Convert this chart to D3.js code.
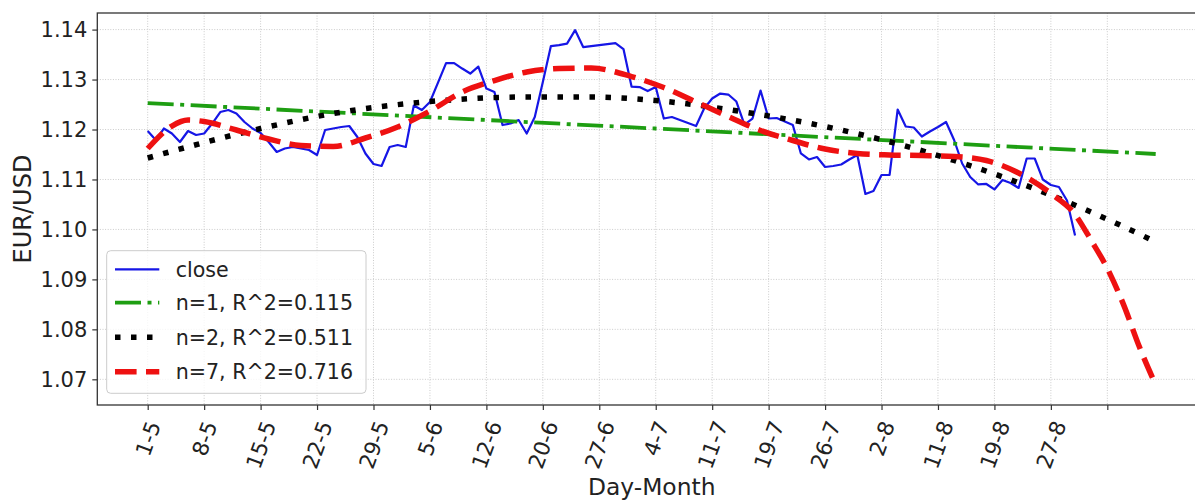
<!DOCTYPE html>
<html><head><meta charset="utf-8">
<script src="https://cdn.jsdelivr.net/npm/d3@7"></script>
<style>html,body{margin:0;padding:0;background:#fff;} svg{display:block;font-family:"DejaVu Sans",sans-serif;}</style>
</head><body><svg id="chart" width="1195" height="500"></svg>
<script>
// ---- data ----
const tickPositions = [0,7,14,21,28,35,42,49,56,63,70,77,84,91,98,105,112,119];
const tickLabels = ["1-5","8-5","15-5","22-5","29-5","5-6","12-6","20-6","27-6","4-7","11-7","19-7","26-7","2-8","11-8","19-8","27-8",""];
const yTicks = [1.07,1.08,1.09,1.10,1.11,1.12,1.13,1.14];

const closeValues = [
 1.1197,1.1179,1.1202,1.1192,1.1175,1.1197,1.1189,1.1192,1.1212,1.1235,
 1.1239,1.1232,1.1215,1.1202,1.1193,1.1175,1.1155,1.1162,1.1165,1.1162,
 1.1159,1.1149,1.1199,1.1202,1.1205,1.1207,1.1185,1.1152,1.1131,1.1127,
 1.1165,1.1169,1.1165,1.1248,1.1239,1.1255,1.1294,1.1333,1.1333,1.1322,
 1.1312,1.1326,1.1282,1.1275,1.1209,1.1212,1.1219,1.1192,1.1225,1.1295,
 1.1367,1.1369,1.1372,1.1399,1.1365,1.1367,1.1369,1.1371,1.1373,1.1361,
 1.1286,1.1285,1.1277,1.1285,1.1222,1.1225,1.1219,1.1213,1.1207,1.1242,
 1.1262,1.1272,1.1270,1.1256,1.1210,1.1222,1.1278,1.1222,1.1223,1.1216,
 1.1209,1.1152,1.1140,1.1145,1.1125,1.1127,1.1130,1.1140,1.1149,1.1071,
 1.1077,1.1109,1.1109,1.1240,1.1206,1.1204,1.1186,1.1196,1.1205,1.1215,
 1.1179,1.1132,1.1105,1.1090,1.1091,1.1080,1.1099,1.1093,1.1083,1.1142,
 1.1142,1.1100,1.1089,1.1085,1.1058,1.0988
];

const fit1Days = [0, 63, 125];
const fit1Vals = [1.1253, 1.1202, 1.1151];

const fit2Days = [0, 14, 23, 35, 47, 55, 63, 74, 86, 100, 111, 120, 125];
const fit2Vals = [1.1143, 1.1202, 1.1232, 1.1256, 1.1265, 1.1265, 1.1258, 1.1235, 1.1199, 1.1138, 1.1075, 1.1013, 1.0975];

const fit7Days = [0, 3, 5, 7, 11, 15, 19, 23, 27, 31, 35, 39, 43, 47, 51, 55, 60, 64, 68, 72, 76, 80, 84, 88, 92, 96, 100, 104, 108, 112, 115, 117, 119, 121, 123, 125];
const fit7Vals = [1.1162, 1.1207, 1.1219, 1.1216, 1.1199, 1.1181, 1.1168, 1.1166, 1.1183, 1.1205, 1.1237, 1.1275, 1.1298, 1.1315, 1.1322, 1.1323, 1.1306, 1.1284, 1.1255, 1.1226, 1.1198, 1.1178, 1.1161, 1.1152, 1.1149, 1.1148, 1.1146, 1.1138, 1.1113, 1.1072, 1.1030, 1.0978, 1.0922, 1.0850, 1.0764, 1.0689];

const legendLabels = ["close", "n=1, R^2=0.115", "n=2, R^2=0.511", "n=7, R^2=0.716"];

// ---- drawing ----
const svg = d3.select("#chart");
const L = 97.3, T = 13, B = 405, R = 1206.1;
const x = d3.scaleLinear().domain([-6.25, 131.25]).range([L, R]);
const y = d3.scaleLinear().domain([1.06486, 1.14332]).range([B, T]);

svg.append("defs").append("clipPath").attr("id","plotclip")
  .append("rect").attr("x",L).attr("y",T).attr("width",R-L).attr("height",B-T);

// grid
const grid = svg.append("g");
grid.selectAll("line.gx").data(tickPositions).enter().append("line")
  .attr("x1", d=>x(d)).attr("x2", d=>x(d)).attr("y1", T).attr("y2", B)
  .attr("stroke","#cbcbcb").attr("stroke-width",1).attr("stroke-dasharray","1,1.6");
grid.selectAll("line.gy").data(yTicks).enter().append("line")
  .attr("x1", L).attr("x2", R).attr("y1", d=>y(d)).attr("y2", d=>y(d))
  .attr("stroke","#cbcbcb").attr("stroke-width",1).attr("stroke-dasharray","1,1.6");

// series
const plot = svg.append("g").attr("clip-path","url(#plotclip)");
const lineLin = d3.line().x(d=>x(d[0])).y(d=>y(d[1]));
const lineSmooth = d3.line().x(d=>x(d[0])).y(d=>y(d[1])).curve(d3.curveMonotoneX);

const closePts = closeValues.map((v,i)=>[i,v]);
const f1 = fit1Days.map((d,i)=>[d, fit1Vals[i]]);
const f2 = fit2Days.map((d,i)=>[d, fit2Vals[i]]);
const f7 = fit7Days.map((d,i)=>[d, fit7Vals[i]]);

const styles = [
  {color:"#1616e6", width:2.2, dash:null},
  {color:"#1e9e12", width:3.8, dash:"26,6.5,4,6.5"},
  {color:"#000000", width:5.5, dash:"5.5,10.5"},
  {color:"#ee1111", width:5.5, dash:"21.6,9.4"}
];

plot.append("path").datum(closePts).attr("d", lineLin).attr("fill","none")
  .attr("stroke",styles[0].color).attr("stroke-width",styles[0].width).attr("stroke-linejoin","round");
plot.append("path").datum(f1).attr("d", lineLin).attr("fill","none")
  .attr("stroke",styles[1].color).attr("stroke-width",styles[1].width).attr("stroke-dasharray",styles[1].dash);
plot.append("path").datum(f2).attr("d", lineSmooth).attr("fill","none")
  .attr("stroke",styles[2].color).attr("stroke-width",styles[2].width).attr("stroke-dasharray",styles[2].dash);
plot.append("path").datum(f7).attr("d", lineSmooth).attr("fill","none")
  .attr("stroke",styles[3].color).attr("stroke-width",styles[3].width).attr("stroke-dasharray",styles[3].dash);

// spines
svg.append("rect").attr("x",L).attr("y",T).attr("width",R-L).attr("height",B-T)
  .attr("fill","none").attr("stroke","#333").attr("stroke-width",1.3);

// y axis
const yAxis = svg.append("g").attr("transform",`translate(${L},0)`)
  .call(d3.axisLeft(y).tickValues(yTicks).tickSize(5).tickPadding(5).tickFormat(d3.format(".2f")));
yAxis.select(".domain").remove();
yAxis.selectAll(".tick line").attr("stroke","#333").attr("stroke-width",1.2);
yAxis.selectAll(".tick text").attr("font-size","21px").attr("fill","#222")
  .attr("font-family","DejaVu Sans, sans-serif");

// x axis
const xAxis = svg.append("g").attr("transform",`translate(0,${B})`)
  .call(d3.axisBottom(x).tickValues(tickPositions).tickSize(5).tickFormat((d,i)=>tickLabels[i]));
xAxis.select(".domain").remove();
xAxis.selectAll(".tick line").attr("stroke","#333").attr("stroke-width",1.2);
const ang = 70, rad = ang*Math.PI/180, fsx = 21.5;
xAxis.selectAll(".tick text").each(function(){
  const t = d3.select(this);
  t.attr("font-size", fsx+"px").attr("fill","#222").attr("font-family","DejaVu Sans, sans-serif")
   .attr("text-anchor","middle").attr("dy","0.35em").attr("y",0);
  const len = this.getComputedTextLength();
  const h = len*Math.sin(rad) + fsx*0.8*Math.cos(rad);
  t.attr("transform", `translate(0,${14 + h/2}) rotate(${-ang})`);
});

// axis titles
svg.append("text").attr("x", (L+R)/2).attr("y", 495).attr("text-anchor","middle")
  .attr("font-size","23.4px").attr("fill","#222").text("Day-Month");
svg.append("text").attr("transform",`translate(31,${(T+B)/2}) rotate(-90)`).attr("text-anchor","middle")
  .attr("font-size","24px").attr("fill","#222").text("EUR/USD");

// legend
const lg = svg.append("g");
lg.append("rect").attr("x",106.7).attr("y",250.7).attr("width",259.3).attr("height",142.6)
  .attr("rx",4).attr("fill","#fff").attr("fill-opacity",0.8).attr("stroke","#cccccc").attr("stroke-width",1);
const rowY = [269.3, 302.7, 337.3, 371.7];
legendLabels.forEach((lab,i)=>{
  const s = styles[i];
  const ln = lg.append("line").attr("x1",115).attr("x2",159.3).attr("y1",rowY[i]).attr("y2",rowY[i])
    .attr("stroke",s.color).attr("stroke-width",s.width);
  if (s.dash) ln.attr("stroke-dasharray", s.dash);
  lg.append("text").attr("x",175.7).attr("y",rowY[i]).attr("dy","0.36em")
    .attr("font-size","20.6px").attr("fill","#222").text(lab);
});
</script></body></html>
